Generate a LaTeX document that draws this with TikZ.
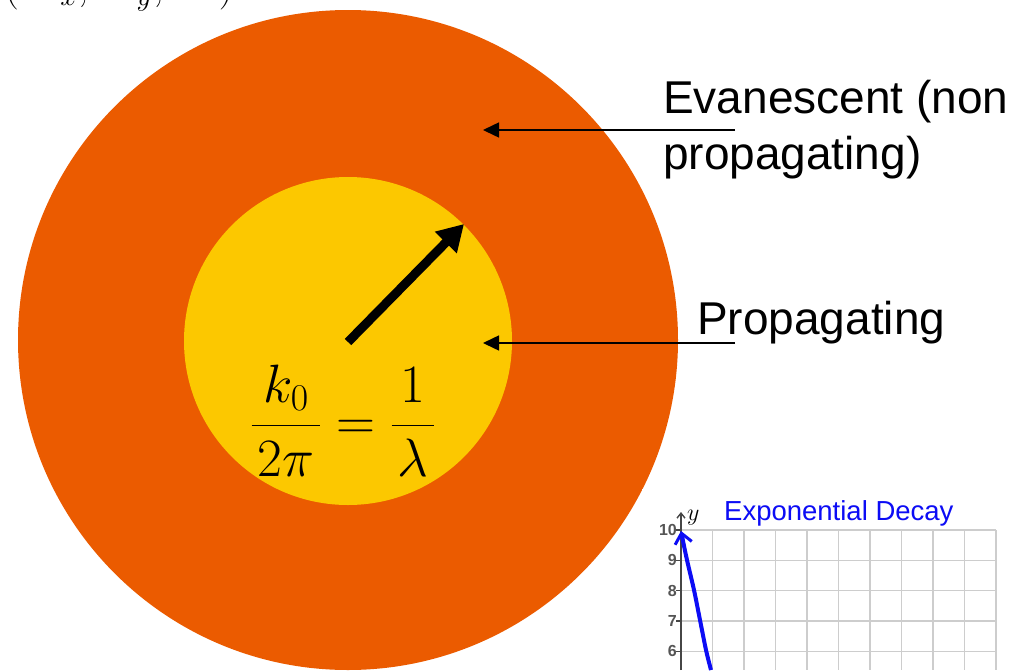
\RequirePackage{fix-cm}
\documentclass[tikz,border=0pt]{standalone}
\usepackage{fontspec}
\setmainfont{Liberation Serif}
\newfontfamily\arial{Liberation Sans}
\usetikzlibrary{arrows.meta}
\definecolor{evorange}{RGB}{235,91,0}
\definecolor{propyellow}{RGB}{252,200,0}
\definecolor{plotblue}{RGB}{12,12,245}
\definecolor{gridgray}{RGB}{205,205,205}
\definecolor{axisgray}{RGB}{70,70,70}
\definecolor{ticktext}{RGB}{85,85,85}
\begin{document}
\begin{tikzpicture}[x=1pt,y=-1pt,
  labeltext/.style={font=\arial\fontsize{46}{56}\selectfont, inner sep=0pt, anchor=base west},
  pointer/.style={line width=1.5pt, -{Triangle[length=16pt,width=15pt]}},
  radiusarrow/.style={line width=9pt, -{Triangle[length=26pt,width=29pt]}},
  gridline/.style={gridgray, line width=1.3pt},
  ticklabel/.style={font=\arial\bfseries\fontsize{16}{18}\selectfont, text=ticktext, inner sep=0pt, anchor=east},
  disc/.style={circle, inner sep=0pt, draw=none}]
\useasboundingbox (0,0) rectangle (1021,670);
\clip (0,0) rectangle (1021,670);

% cropped text at top-left
\node[anchor=base west, inner sep=0pt] (topleft) at (4,-1)
  {\fontsize{42}{48}\selectfont$(\delta k_x, \delta k_y, \ldots)$};

% k-space discs
\node[disc, fill=evorange, minimum size=660pt] (outer) at (348,340) {};
\node[disc, fill=propyellow, minimum size=328pt] (inner) at (348,341) {};

% radius arrow
\coordinate (rstart) at (348,342);
\coordinate (rtip) at (464,224);
\draw[radiusarrow] (rstart) -- (rtip);

% formula
\node[anchor=base, inner sep=0pt] (formula) at (343,439)
  {\fontsize{54}{60}\selectfont$\displaystyle\frac{\mkern1mu k_0\mkern1mu}{\mkern2mu 2\pi\mkern2mu}=\frac{\mkern3mu 1\mkern3mu}{\lambda}$};

% white panel for inset plot
\fill[white] (642,489) rectangle (1021,670);

% labels
\node[labeltext] (evan1) at (663,113) {Evanescent (non};
\node[labeltext] (evan2) at (663,169) {propagating)};
\node[labeltext] (prop) at (697,334) {Propagating};

\coordinate (evstart) at (735,130);
\coordinate (evend) at (483,130);
\coordinate (prstart) at (735,343);
\coordinate (prend) at (483,343);
\draw[pointer] (evstart) -- (evend);
\draw[pointer] (prstart) -- (prend);

% inset plot
\node[anchor=base west, inner sep=0pt, text=plotblue, font=\arial\fontsize{27.5}{31}\selectfont] (title) at (724,520) {Exponential Decay};
\foreach \i in {1,...,10} {
  \draw[gridline] (681+31.5*\i,530) -- (681+31.5*\i,670);
}
\foreach \j in {0,...,4} {
  \draw[gridline] (681,530+30.3*\j) -- (996,530+30.3*\j);
}
\coordinate (axbot) at (681,670);
\coordinate (axtop) at (681,512);
\draw[axisgray, line width=1.4pt, -{Straight Barb[length=5pt,width=8pt]}] (axbot) -- (axtop);
\node[anchor=base west, inner sep=0pt, font=\fontsize{24}{26}\selectfont] (ylab) at (687,520) {$y$};
\foreach \v [count=\j from 0] in {10,9,8,7,6} {
  \draw[axisgray, line width=1.2pt] (676,530+30.3*\j) -- (681,530+30.3*\j);
  \node[ticklabel] (tick\v) at (677,530+30.3*\j) {\v};
}
\draw[plotblue, line width=4pt, {Straight Barb[length=10pt,width=17pt,line width=3pt]}-]
  plot[smooth] coordinates {(681,531) (687,560) (694,590) (700,620) (706,650) (711,670)};
\end{tikzpicture}
\end{document}
